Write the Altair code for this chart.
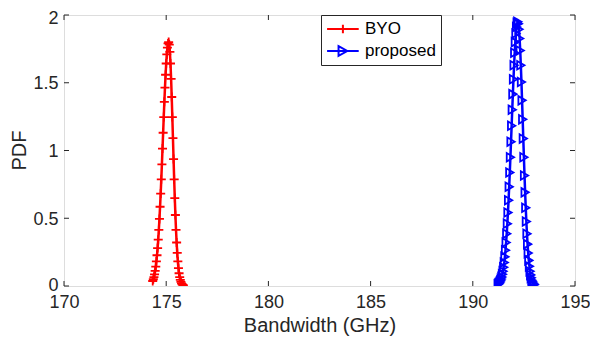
import altair as alt
import pandas as pd

# ---- data ----
byo_x = [174.34, 174.37, 174.40, 174.43, 174.46, 174.49, 174.52, 174.55, 174.58, 174.61,
         174.64, 174.67, 174.70, 174.73, 174.76, 174.79, 174.82, 174.85, 174.88, 174.91,
         174.94, 174.97, 175.00, 175.03, 175.06, 175.09, 175.12, 175.15, 175.18, 175.21,
         175.24, 175.27, 175.30, 175.33, 175.36, 175.39, 175.42, 175.45, 175.48, 175.51,
         175.54, 175.57, 175.60, 175.63, 175.66, 175.69, 175.72, 175.75, 175.78, 175.81,
         175.84]
byo_y = [0.037, 0.050, 0.066, 0.086, 0.112, 0.143, 0.181, 0.227, 0.280, 0.342,
         0.414, 0.495, 0.585, 0.682, 0.787, 0.898, 1.014, 1.131, 1.247, 1.359,
         1.464, 1.559, 1.642, 1.709, 1.759, 1.790, 1.800, 1.782, 1.728, 1.642,
         1.529, 1.395, 1.247, 1.092, 0.937, 0.787, 0.649, 0.524, 0.414, 0.321,
         0.244, 0.181, 0.132, 0.094, 0.066, 0.045, 0.030, 0.020, 0.013, 0.008,
         0.005]

prop_x = [191.24, 191.27, 191.30, 191.33, 191.36, 191.39, 191.42, 191.45, 191.48, 191.51,
          191.54, 191.57, 191.60, 191.63, 191.66, 191.69, 191.72, 191.75, 191.78, 191.81,
          191.84, 191.87, 191.90, 191.93, 191.96, 191.99, 192.02, 192.05, 192.08, 192.11,
          192.14, 192.17, 192.20, 192.23, 192.26, 192.29, 192.32, 192.35, 192.38, 192.41,
          192.44, 192.47, 192.50, 192.53, 192.56, 192.59, 192.62, 192.65, 192.68, 192.71,
          192.74, 192.77, 192.80, 192.83, 192.86, 192.89, 192.92, 192.95, 192.98, 193.01]
prop_y = [0.011, 0.016, 0.022, 0.029, 0.039, 0.051, 0.066, 0.086, 0.109, 0.138,
          0.173, 0.215, 0.264, 0.321, 0.386, 0.460, 0.542, 0.633, 0.732, 0.838,
          0.950, 1.065, 1.183, 1.301, 1.416, 1.526, 1.629, 1.721, 1.800, 1.864,
          1.911, 1.940, 1.950, 1.936, 1.895, 1.827, 1.738, 1.629, 1.506, 1.370,
          1.230, 1.088, 0.950, 0.816, 0.691, 0.577, 0.476, 0.386, 0.309, 0.243,
          0.189, 0.145, 0.109, 0.082, 0.060, 0.043, 0.031, 0.022, 0.015, 0.010]

series_names = ["BYO", "proposed"]
series_colors = ["#FF0000", "#0000FF"]
x_ticks = [170, 175, 180, 185, 190, 195]
y_ticks = [0, 0.5, 1, 1.5, 2]

# ---- tables ----
df = pd.concat([
    pd.DataFrame({"bw": byo_x, "pdf": byo_y, "series": "BYO"}),
    pd.DataFrame({"bw": prop_x, "pdf": prop_y, "series": "proposed"}),
], ignore_index=True)
xt = pd.DataFrame({"v": x_ticks})
yt = pd.DataFrame({"v": y_ticks})

W, H = 511, 271
FONT = "Liberation Sans"
AX = "#262626"

xscale = alt.Scale(domain=[170, 195], nice=False, zero=False)
yscale = alt.Scale(domain=[0, 2], nice=False)

x_enc = alt.X("bw:Q", scale=xscale, axis=alt.Axis(
    values=x_ticks, title="Bandwidth (GHz)", grid=False, domain=False, ticks=False,
    tickSize=0, labelPadding=7, labelFontSize=18, labelColor=AX, labelFont=FONT,
    titleFont=FONT, titleFontSize=20, titleFontWeight="normal", titleColor=AX,
    titleBaseline="alphabetic", titleY=45.5, labelFlush=False))
y_enc = alt.Y("pdf:Q", scale=yscale, axis=alt.Axis(
    values=y_ticks, title="PDF", grid=False, domain=False, ticks=False, format="~g",
    tickSize=0, labelPadding=6, labelFontSize=18, labelColor=AX, labelFont=FONT,
    labelOffset={"condition": [{"test": "datum.value == 2", "value": 3},
                               {"test": "datum.value == 0", "value": -1}],
                 "value": 1},
    titleFont=FONT, titleFontSize=20, titleFontWeight="normal", titleColor=AX,
    titleBaseline="alphabetic", titleX=-39, titleY=135, labelFlush=False))

base = alt.Chart(df)

def series_layers(name, col, shape, size):
    sub = base.transform_filter(alt.datum.series == name)
    ln = sub.mark_line(strokeWidth=2.5, color=col, clip=True).encode(
        x=x_enc, y=y_enc, order="bw:Q")
    pt = sub.mark_point(shape=shape, filled=False, size=size, strokeWidth=1.8,
                        color=col, opacity=1, clip=True).encode(x="bw:Q", y="pdf:Q")
    return [ln, pt]

layers = []
layers += series_layers("BYO", series_colors[0], "M-1,0H1M0,-1V1", 81)
layers += series_layers("proposed", series_colors[1], "triangle-right", 72)

leg_props = dict(title=None, orient="none", legendX=257, legendY=0,
                 strokeColor=AX, fillColor="white", padding=5,
                 rowPadding=4, symbolSize=250, symbolStrokeWidth=2,
                 symbolOpacity=1, labelOffset=21, labelFontSize=17,
                 labelFont=FONT, labelColor="#000000")

# invisible layer that only builds the legend (line + marker glyphs)
legend_layer = base.mark_point(opacity=0, filled=False).encode(
    x="bw:Q", y="pdf:Q",
    color=alt.Color("series:N", scale=alt.Scale(domain=series_names, range=series_colors),
                    legend=alt.Legend(**leg_props)),
    shape=alt.Shape("series:N", scale=alt.Scale(
        domain=series_names,
        range=["M-1,0H3M1,-0.55V0.55", "M-1,0H3M0.45,-0.62L1.55,0L0.45,0.62Z"]),
        legend=alt.Legend(**leg_props)),
)
layers.append(legend_layer)

# inward tick marks on all four sides (MATLAB box style)
layers.append(alt.Chart(xt).mark_rule(color=AX, strokeWidth=1).encode(
    x=alt.X("v:Q", scale=xscale), y=alt.value(H), y2=alt.value(H - 5)))
layers.append(alt.Chart(xt).mark_rule(color=AX, strokeWidth=1).encode(
    x=alt.X("v:Q", scale=xscale), y=alt.value(0), y2=alt.value(5)))
layers.append(alt.Chart(yt).mark_rule(color=AX, strokeWidth=1).encode(
    y=alt.Y("v:Q", scale=yscale), x=alt.value(0), x2=alt.value(5)))
layers.append(alt.Chart(yt).mark_rule(color=AX, strokeWidth=1).encode(
    y=alt.Y("v:Q", scale=yscale), x=alt.value(W), x2=alt.value(W - 5)))

chart = alt.layer(*layers).properties(
    width=W, height=H,
    autosize=alt.AutoSizeParams(type="none"),
    padding={"left": 56, "top": 7, "right": 15, "bottom": 50},
).configure_view(stroke=AX, strokeWidth=1).configure(background="white")

chart.save("out.html", embed_options={"renderer": "svg", "actions": False})
